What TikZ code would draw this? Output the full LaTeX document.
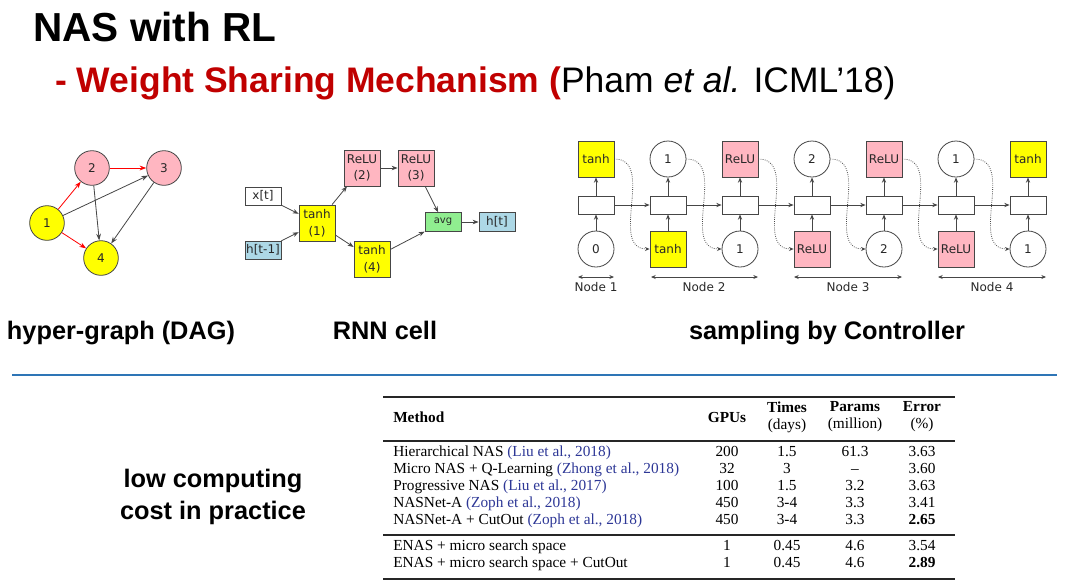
\documentclass[tikz,border=0pt]{standalone}
\usepackage{fontspec}
\setmainfont{Liberation Sans}
\newfontfamily\tms{Liberation Serif}
\newfontfamily\dvs{DejaVu Sans}
\usetikzlibrary{arrows.meta}
\definecolor{titlered}{RGB}{192,0,0}
\definecolor{pinkfill}{RGB}{255,182,193}
\definecolor{yel}{RGB}{255,255,0}
\definecolor{lblue}{RGB}{173,216,230}
\definecolor{lgreen}{RGB}{144,238,144}
\definecolor{ruleblue}{RGB}{46,117,182}
\definecolor{citeblue}{RGB}{45,55,150}
\definecolor{strk}{RGB}{70,70,70}
\definecolor{txtgray}{RGB}{40,40,40}
\begin{document}
\begin{tikzpicture}[x=0.75pt,y=-0.75pt,
  dagnode/.style={circle,draw=strk,line width=0.6pt,minimum size=26pt,inner sep=0pt,font=\dvs\fontsize{9}{10}\selectfont,text=txtgray},
  dagblack/.style={-{Stealth[length=5pt,width=3.6pt]},draw=strk,line width=0.6pt},
  dagred/.style={-{Stealth[length=5pt,width=3.6pt]},draw=red,line width=0.6pt},
  cellbox/.style={rectangle,draw=strk,line width=0.6pt,minimum width=27pt,minimum height=27pt,inner sep=0pt,align=center,font=\dvs\fontsize{9}{12.5}\selectfont,text=txtgray},
  smallbox/.style={cellbox,minimum height=13.5pt},
  cellarrow/.style={-{Stealth[length=4.5pt,width=3.4pt]},draw=strk,line width=0.6pt},
  topbox/.style={rectangle,draw=strk,line width=0.6pt,minimum width=27pt,minimum height=27pt,inner sep=0pt,font=\dvs\fontsize{9}{10}\selectfont,text=txtgray},
  circ/.style={circle,draw=strk,line width=0.6pt,fill=white,minimum size=27pt,inner sep=0pt,font=\dvs\fontsize{9}{10}\selectfont,text=txtgray},
  midbox/.style={rectangle,draw=strk,line width=0.6pt,fill=white,minimum width=27pt,minimum height=13.5pt,inner sep=0pt},
  ctlarrow/.style={-{Stealth[length=4pt,width=3.2pt]},draw=strk,line width=0.6pt},
  dotarrow/.style={-{Stealth[length=3.5pt,width=3pt]},draw=strk,line width=0.6pt,densely dotted},
  spanarrow/.style={{Stealth[length=3.5pt,width=3pt]}-{Stealth[length=3.5pt,width=3pt]},draw=strk,line width=0.6pt},
  nodelabel/.style={font=\dvs\fontsize{9}{10}\selectfont,text=txtgray,inner sep=0pt},
  caption/.style={font=\bfseries\fontsize{19}{24}\selectfont,inner sep=0pt,align=center},
  tab/.style={font=\tms\fontsize{11.5}{12.75}\selectfont,inner sep=0pt,text height=8pt,text depth=2.5pt},
  tabh/.style={font=\tms\bfseries\fontsize{11.5}{12.75}\selectfont,inner sep=0pt,align=center},
  tabh2/.style={font=\tms\fontsize{11.5}{12.75}\selectfont,inner sep=0pt,align=center},
  rule/.style={draw=black!85,line width=1.1pt}
]
\useasboundingbox (0,0) rectangle (1080,587);

% Title
\node[anchor=base west,inner sep=0pt,font=\bfseries\fontsize{30.4}{36}\selectfont] (title) at (33,41) {NAS with RL};
\node[anchor=base west,inner sep=0pt,font=\fontsize{26.6}{30}\selectfont] (subtitle) at (55,92)
  {\textcolor{titlered}{\bfseries - Weight Sharing Mechanism (}Pham \textit{et al.} ICML'18)};

% DAG
\node[dagnode,fill=yel] (d1) at (47,223) {1};
\node[dagnode,fill=pinkfill] (d2) at (92,168) {2};
\node[dagnode,fill=pinkfill] (d3) at (164,168) {3};
\node[dagnode,fill=yel] (d4) at (101,258) {4};
\draw[dagred] (d1) -- (d2);
\draw[dagred] (d2) -- (d3);
\draw[dagred] (d1) -- (d4);
\draw[dagblack] (d1) -- (d3);
\draw[dagblack] (d2) -- (d4);
\draw[dagblack] (d3) -- (d4);

% RNN cell
\node[smallbox,fill=white] (xt) at (263,196) {x[t]};
\node[smallbox,fill=lblue] (hp) at (263,250) {h[t-1]};
\node[cellbox,fill=yel] (c1) at (317,223) {tanh\\(1)};
\node[cellbox,fill=pinkfill] (c2) at (362,168) {ReLU\\(2)};
\node[cellbox,fill=pinkfill] (c3) at (416,168) {ReLU\\(3)};
\node[cellbox,fill=yel] (c4) at (372,259) {tanh\\(4)};
\node[smallbox,fill=lgreen,minimum height=14pt,font=\dvs\fontsize{7.5}{9}\selectfont] (avg) at (443,222) {avg};
\node[smallbox,fill=lblue,minimum height=14pt] (ht) at (497,222) {h[t]};
\draw[cellarrow] (xt) -- (c1);
\draw[cellarrow] (hp) -- (c1);
\draw[cellarrow] (c1) -- (c2);
\draw[cellarrow] (c2) -- (c3);
\draw[cellarrow] (c3) -- (avg);
\draw[cellarrow] (c1) -- (c4);
\draw[cellarrow] (c4) -- (avg);
\draw[cellarrow] (avg) -- (ht);

% Controller
\node[topbox,fill=yel] (t0) at (596,159) {tanh};
\node[circ] (t1) at (668,159) {1};
\node[topbox,fill=pinkfill] (t2) at (740,159) {ReLU};
\node[circ] (t3) at (812,159) {2};
\node[topbox,fill=pinkfill] (t4) at (884,159) {ReLU};
\node[circ] (t5) at (956,159) {1};
\node[topbox,fill=yel] (t6) at (1028,159) {tanh};
\node[circ] (b0) at (596,249) {0};
\node[topbox,fill=yel] (b1) at (668,249) {tanh};
\node[circ] (b2) at (740,249) {1};
\node[topbox,fill=pinkfill] (b3) at (812,249) {ReLU};
\node[circ] (b4) at (884,249) {2};
\node[topbox,fill=pinkfill] (b5) at (956,249) {ReLU};
\node[circ] (b6) at (1028,249) {1};
\foreach \i/\x in {0/596,1/668,2/740,3/812,4/884,5/956,6/1028}{
  \node[midbox] (m\i) at (\x,205) {};
  \draw[ctlarrow] (b\i) -- (m\i);
  \draw[ctlarrow] (m\i) -- (t\i);
}
\foreach \i [evaluate=\i as \j using int(\i+1)] in {0,...,5}{
  \draw[ctlarrow] (m\i) -- (m\j);
  \draw[dotarrow] (t\i.east) to[out=0,in=180,looseness=1.1] (b\j.west);
}
\coordinate (s1a) at (578,277); \coordinate (s1b) at (614,277);
\coordinate (s2a) at (651,277); \coordinate (s2b) at (758,277);
\coordinate (s3a) at (794,277); \coordinate (s3b) at (902,277);
\coordinate (s4a) at (938,277); \coordinate (s4b) at (1046,277);
\draw[spanarrow] (s1a) -- (s1b);
\draw[spanarrow] (s2a) -- (s2b);
\draw[spanarrow] (s3a) -- (s3b);
\draw[spanarrow] (s4a) -- (s4b);
\node[nodelabel] (nl1) at (596,287) {Node 1};
\node[nodelabel] (nl2) at (704,287) {Node 2};
\node[nodelabel] (nl3) at (848,287) {Node 3};
\node[nodelabel] (nl4) at (992,287) {Node 4};

% Captions
\node[caption,anchor=base] (cap1) at (121,339) {hyper-graph (DAG)};
\node[caption,anchor=base] (cap2) at (385,339) {RNN cell};
\node[caption,anchor=base] (cap3) at (827,339) {sampling by Controller};
\coordinate (bl1) at (12,375); \coordinate (bl2) at (1057,375);
\draw[draw=ruleblue,line width=2pt] (bl1) -- (bl2);
\node[caption] (cap4) at (213,497) {low computing\\cost in practice};

% Table
\coordinate (r1a) at (383,397); \coordinate (r1b) at (955,397);
\coordinate (r2a) at (383,441); \coordinate (r2b) at (955,441);
\coordinate (r3a) at (383,535); \coordinate (r3b) at (955,535);
\coordinate (r4a) at (383,579); \coordinate (r4b) at (955,579);
\draw[rule] (r1a) -- (r1b);
\draw[rule,line width=0.8pt] (r2a) -- (r2b);
\draw[rule,line width=0.8pt] (r3a) -- (r3b);
\draw[rule] (r4a) -- (r4b);

\node[tabh,anchor=west] (hm) at (393,417) {Method};
\node[tabh] (hg) at (727,417) {GPUs};
\node[tabh2] (htm) at (787,417) {\bfseries Times\\(days)};
\node[tabh2] (hpr) at (855,417) {\bfseries Params\\(million)};
\node[tabh2] (her) at (922,417) {\bfseries Error\\(\%)};

\node[tab,anchor=west] (m1) at (393,453) {Hierarchical NAS \textcolor{citeblue}{(Liu et al., 2018)}};
\node[tab,anchor=west] (m2) at (393,470) {Micro NAS + Q-Learning \textcolor{citeblue}{(Zhong et al., 2018)}};
\node[tab,anchor=west] (m3) at (393,487) {Progressive NAS \textcolor{citeblue}{(Liu et al., 2017)}};
\node[tab,anchor=west] (m4) at (393,504) {NASNet-A \textcolor{citeblue}{(Zoph et al., 2018)}};
\node[tab,anchor=west] (m5) at (393,521) {NASNet-A + CutOut \textcolor{citeblue}{(Zoph et al., 2018)}};
\node[tab,anchor=west] (m6) at (393,547) {ENAS + micro search space};
\node[tab,anchor=west] (m7) at (393,564) {ENAS + micro search space + CutOut};

\foreach \r/\y/\g/\t/\p/\e in {1/453/200/1.5/61.3/3.63, 2/470/32/3/\textendash/3.60, 3/487/100/1.5/3.2/3.63,
  4/504/450/3-4/3.3/3.41, 5/521/450/3-4/3.3/\textbf{2.65}, 6/547/1/0.45/4.6/3.54, 7/564/1/0.45/4.6/\textbf{2.89}}{
  \node[tab] (g\r) at (727,\y) {\g};
  \node[tab] (tm\r) at (787,\y) {\t};
  \node[tab] (p\r) at (855,\y) {\p};
  \node[tab] (e\r) at (922,\y) {\e};
}
\end{tikzpicture}
\end{document}
